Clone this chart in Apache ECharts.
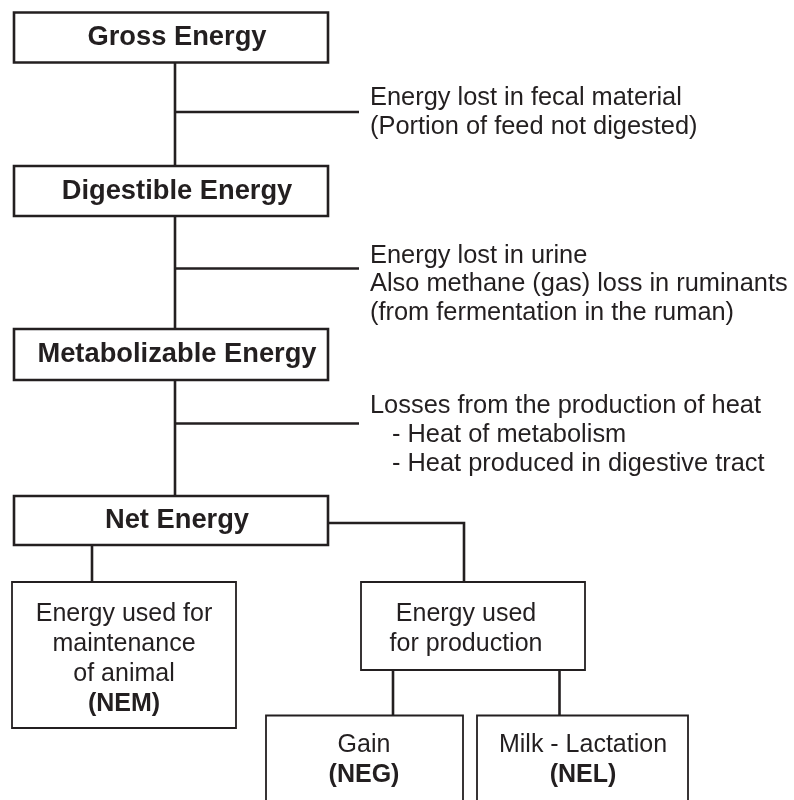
<!DOCTYPE html>
<html><head><meta charset="utf-8">
<script src="https://cdn.jsdelivr.net/npm/echarts@6/dist/echarts.min.js"></script>
<style>html,body{margin:0;padding:0;background:#fff}#c{width:794px;height:800px}</style>
</head><body><div id="c"></div>
<script>
// ---- content ----
const stageNames = ['Gross Energy', 'Digestible Energy', 'Metabolizable Energy', 'Net Energy'];
const lossNotes = [
  ['Energy lost in fecal material', '(Portion of feed not digested)'],
  ['Energy lost in urine', 'Also methane (gas) loss in ruminants', '(from fermentation in the ruman)'],
  ['Losses from the production of heat', '- Heat of metabolism', '- Heat produced in digestive tract']
];
const useLabels = [['Energy used for', 'maintenance', 'of animal'], ['Energy used', 'for production'], ['Gain'], ['Milk - Lactation']];
const useCodes = ['(NEM)', '', '(NEG)', '(NEL)'];

// ---- layout (in the hidden axes' units) ----
const L = {
  ink: '#231f20',
  font: '"Liberation Sans", Arial, Helvetica, sans-serif',
  titleSize: 27.3, textSize: 25.4,
  stageX: [14, 328],
  stageY: [[12.5, 62.5], [166, 216], [329, 380], [496, 545]],
  stageTextX: 177,
  spineX: 175,
  branchY: [112, 268.5, 423.5], branchEnd: 359,
  noteX: 370, noteIndent: 22, noteBase: [107.3, 264.5, 415], noteLH: [28.7, 28.75, 29],
  useBox: [[12, 582, 236, 728], [361, 582, 585, 670], [266, 715.5, 463, 808], [477, 715.5, 688, 808]],
  useTextX: [124, 466, 364, 583], useBase: [622.5, 622.5, 753.3, 753.3], useLH: 30,
  links: [
    [[92, 545], [92, 582]],
    [[328, 523], [464, 523], [464, 582]],
    [[393, 670], [393, 715.5]],
    [[559.5, 670], [559.5, 715.5]]
  ],
  thick: 2.6, thin: 1.8
};
const midOf = (base, size) => base - 0.3465 * size;

// connectors: spine segments between stages, branch lines, and tree links
const connectors = [];
for (let i = 0; i + 1 < stageNames.length; i++) connectors.push([[L.spineX, L.stageY[i][1]], [L.spineX, L.stageY[i + 1][0]]]);
L.branchY.forEach(y => connectors.push([[L.spineX, y], [L.branchEnd, y]]));
L.links.forEach(p => connectors.push(p));

function txt(api, s, x, y, font, align) {
  const p = api.coord([x, y]);
  return { type: 'text', style: { text: s, x: p[0], y: p[1], font: font, fill: L.ink, align: align, verticalAlign: 'middle' } };
}
function rect(api, x0, y0, x1, y1, lw) {
  const a = api.coord([x0, y0]), b = api.coord([x1, y1]);
  return { type: 'rect', shape: { x: a[0], y: a[1], width: b[0] - a[0], height: b[1] - a[1] }, style: { fill: '#fff', stroke: L.ink, lineWidth: lw } };
}

const chart = echarts.init(document.getElementById('c'), null, { renderer: 'canvas' });
chart.setOption({
  animation: false,
  backgroundColor: '#fff',
  grid: { left: 0, right: 0, top: 0, bottom: 0 },
  xAxis: { type: 'value', min: 0, max: 794, show: false },
  yAxis: { type: 'value', min: 0, max: 800, inverse: true, show: false },
  series: [
    {
      type: 'custom', name: 'connectors', z: 1, clip: false,
      data: connectors.map((c, i) => [i]),
      renderItem: (params, api) => {
        const pts = connectors[params.dataIndex].map(p => api.coord(p));
        return { type: 'polyline', shape: { points: pts }, style: { fill: null, stroke: L.ink, lineWidth: L.thick, lineJoin: 'miter' } };
      }
    },
    {
      type: 'custom', name: 'stages', z: 2, clip: false,
      data: stageNames.map((n, i) => ({ name: n, value: [i] })),
      renderItem: (params, api) => {
        const i = params.dataIndex, y = L.stageY[i];
        return { type: 'group', children: [
          rect(api, L.stageX[0], y[0], L.stageX[1], y[1], L.thick),
          txt(api, stageNames[i], L.stageTextX, (y[0] + y[1]) / 2, 'bold ' + L.titleSize + 'px ' + L.font, 'center')
        ] };
      }
    },
    {
      type: 'custom', name: 'losses', z: 2, clip: false,
      data: lossNotes.map((n, i) => [i]),
      renderItem: (params, api) => {
        const i = params.dataIndex;
        return { type: 'group', children: lossNotes[i].map((s, k) =>
          txt(api, s, L.noteX + (s.startsWith('-') ? L.noteIndent : 0), midOf(L.noteBase[i] + k * L.noteLH[i], L.textSize), L.textSize + 'px ' + L.font, 'left')) };
      }
    },
    {
      type: 'custom', name: 'uses', z: 2, clip: false,
      data: useLabels.map((n, i) => [i]),
      renderItem: (params, api) => {
        const i = params.dataIndex, b = L.useBox[i];
        const lines = useLabels[i].map(s => ({ s: s, bold: false }));
        if (useCodes[i]) lines.push({ s: useCodes[i], bold: true });
        const kids = [rect(api, b[0], b[1], b[2], b[3], L.thin)];
        lines.forEach((ln, k) => kids.push(txt(api, ln.s, L.useTextX[i], midOf(L.useBase[i] + k * L.useLH, 25),
          (ln.bold ? 'bold ' : '') + '25px ' + L.font, 'center')));
        return { type: 'group', children: kids };
      }
    }
  ]
});
</script></body></html>
